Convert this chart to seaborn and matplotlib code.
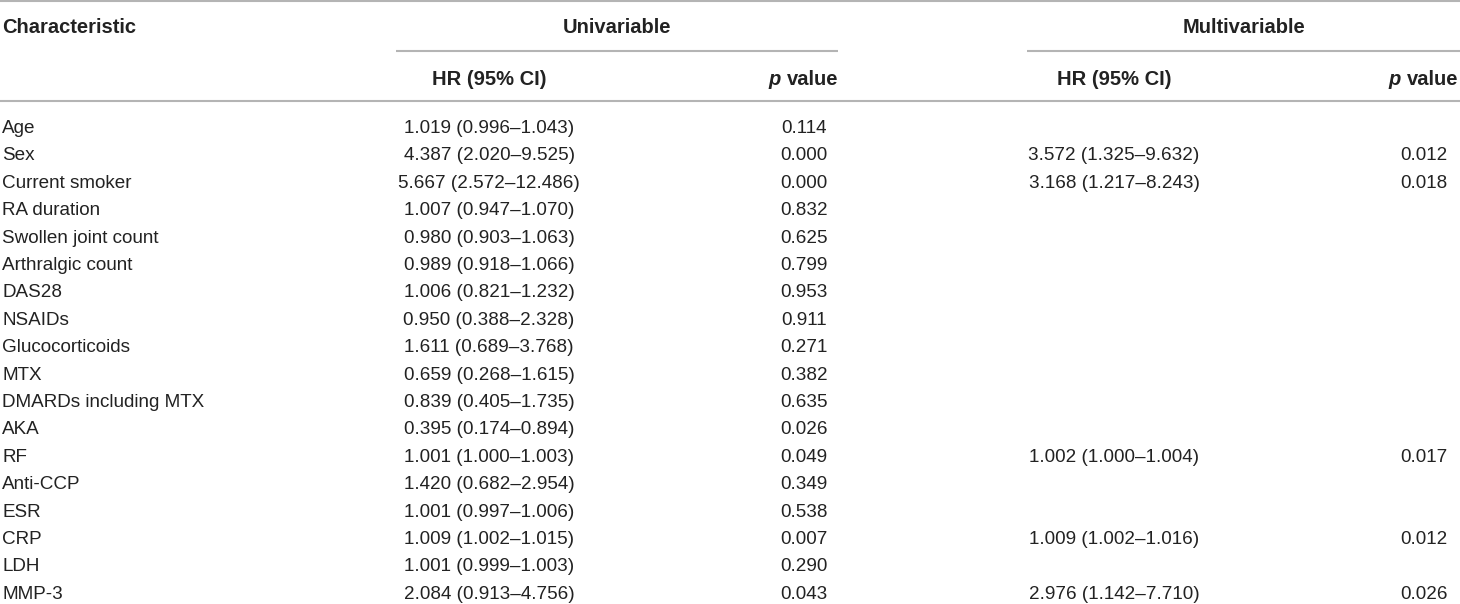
import matplotlib
matplotlib.use("Agg")
import matplotlib.pyplot as plt
import seaborn as sns

# table data
characteristics = ["Age", "Sex", "Current smoker", "RA duration", "Swollen joint count",
                   "Arthralgic count", "DAS28", "NSAIDs", "Glucocorticoids", "MTX",
                   "DMARDs including MTX", "AKA", "RF", "Anti-CCP", "ESR", "CRP", "LDH", "MMP-3"]
uni_hr = [1.019, 4.387, 5.667, 1.007, 0.980, 0.989, 1.006, 0.950, 1.611, 0.659,
          0.839, 0.395, 1.001, 1.420, 1.001, 1.009, 1.001, 2.084]
uni_lo = [0.996, 2.020, 2.572, 0.947, 0.903, 0.918, 0.821, 0.388, 0.689, 0.268,
          0.405, 0.174, 1.000, 0.682, 0.997, 1.002, 0.999, 0.913]
uni_hi = [1.043, 9.525, 12.486, 1.070, 1.063, 1.066, 1.232, 2.328, 3.768, 1.615,
          1.735, 0.894, 1.003, 2.954, 1.006, 1.015, 1.003, 4.756]
uni_p = [0.114, 0.000, 0.000, 0.832, 0.625, 0.799, 0.953, 0.911, 0.271, 0.382,
         0.635, 0.026, 0.049, 0.349, 0.538, 0.007, 0.290, 0.043]

multi_rows = ["Sex", "Current smoker", "RF", "CRP", "MMP-3"]
multi_hr = [3.572, 3.168, 1.002, 1.009, 2.976]
multi_lo = [1.325, 1.217, 1.000, 1.002, 1.142]
multi_hi = [9.632, 8.243, 1.004, 1.016, 7.710]
multi_p = [0.012, 0.018, 0.017, 0.012, 0.026]

sns.set_theme(style="white")
plt.rcParams['font.family'] = ['Liberation Sans', 'DejaVu Sans']

W, H = 1460, 604
fig = plt.figure(figsize=(W / 100, H / 100), dpi=100)
ax = fig.add_axes([0, 0, 1, 1])
ax.set_xlim(0, W)
ax.set_ylim(H, 0)
ax.axis("off")

fs = 13.6
fs_hdr = 14.5
txt = "#222222"
rule = "#b4b4b4"

# column layout (pixels)
x_char = 2
uni_l, uni_r = 396, 838
mul_l, mul_r = 1027, 1460
x_uni_hr, x_uni_p = 489, 804
x_mul_hr, x_mul_p = 1114, 1424
row0, row_h = 133, 27.4

# rules
ax.plot([0, W], [1, 1], color=rule, lw=1.5, solid_capstyle="butt")
ax.plot([uni_l, uni_r], [51, 51], color=rule, lw=1.5, solid_capstyle="butt")
ax.plot([mul_l, mul_r], [51, 51], color=rule, lw=1.5, solid_capstyle="butt")
ax.plot([0, W], [100.5, 100.5], color=rule, lw=1.5, solid_capstyle="butt")

# header
hdr = dict(fontsize=fs_hdr, fontweight="bold", color=txt, va="baseline")
ax.text(x_char, 33, "Characteristic", ha="left", **hdr)
ax.text((uni_l + uni_r) / 2, 33, "Univariable", ha="center", **hdr)
ax.text((mul_l + mul_r) / 2, 33, "Multivariable", ha="center", **hdr)
ax.text(x_uni_hr, 85, "HR (95% CI)", ha="center", **hdr)
ax.text(x_mul_hr, 85, "HR (95% CI)", ha="center", **hdr)
for xr in [uni_r, mul_r - 2]:
    tv = ax.text(xr, 85, "value", ha="right", **hdr)
    ax.annotate("p ", xy=(0, 0), xycoords=tv, ha="right", va="bottom",
                fontsize=fs_hdr, fontweight="bold", fontstyle="italic", color=txt)


def fmt_ci(h, lo, hi):
    return f"{h:.3f} ({lo:.3f}\u2013{hi:.3f})"


body = dict(fontsize=fs, color=txt, va="baseline")
for i, name in enumerate(characteristics):
    y = row0 + i * row_h
    ax.text(x_char, y, name, ha="left", **body)
    ax.text(x_uni_hr, y, fmt_ci(uni_hr[i], uni_lo[i], uni_hi[i]), ha="center", **body)
    ax.text(x_uni_p, y, f"{uni_p[i]:.3f}", ha="center", **body)
    if name in multi_rows:
        j = multi_rows.index(name)
        ax.text(x_mul_hr, y, fmt_ci(multi_hr[j], multi_lo[j], multi_hi[j]), ha="center", **body)
        ax.text(x_mul_p, y, f"{multi_p[j]:.3f}", ha="center", **body)

fig.savefig("out.png", dpi=100, facecolor="white")
